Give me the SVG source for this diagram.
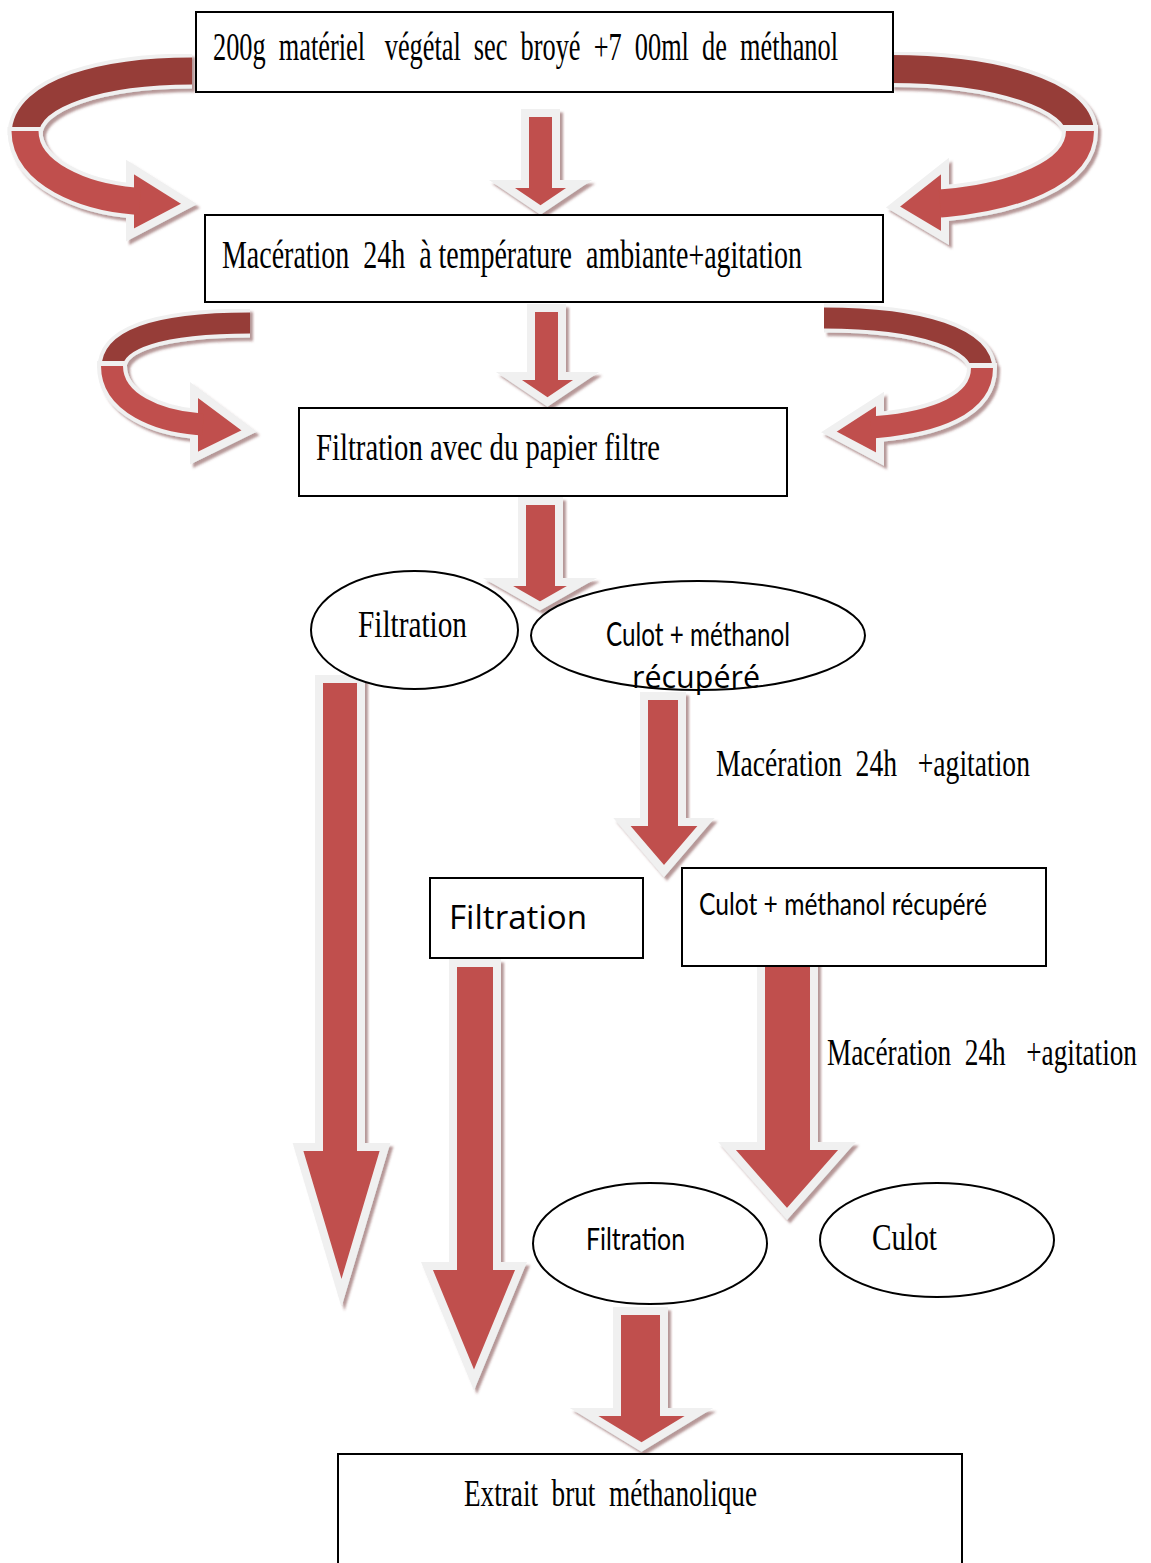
<svg xmlns="http://www.w3.org/2000/svg" width="1151" height="1563" viewBox="0 0 1151 1563">
<defs>
<filter id="sh" x="-20%" y="-10%" width="140%" height="125%">
<feDropShadow dx="3" dy="3.5" stdDeviation="1.2" flood-color="#6e3030" flood-opacity="0.5"/>
</filter>
<style>
.blk{fill:#c0504d;stroke:#f0f0f0;stroke-width:8;stroke-linejoin:miter;stroke-miterlimit:10}
.wb{fill:none;stroke:#f0f0f0}
.dk{fill:none;stroke:#963c39}
.lt{fill:none;stroke:#c0504d}
.box{fill:#fff;stroke:#000;stroke-width:2}
.ell{fill:#fff;stroke:#000;stroke-width:2}
.serif{font-family:"Liberation Serif","Times New Roman",serif;fill:#000}
.sans{font-family:"Lato","Liberation Sans",sans-serif;fill:#000}
.open{font-family:"Open Sans","Liberation Sans",sans-serif;fill:#000}
</style>
</defs>
<g id="connectors">
<g id="curve-tl" filter="url(#sh)">
<path class="wb" stroke-width="35" d="M 192 71 C 105 71 25 92 25 135"/>
<path class="dk" stroke-width="27" d="M 192 71 C 105 71 25 92 25 135"/>
<path class="wb" stroke-width="35" d="M 25 127 L 25 131 C 25 174 85 197 134 201"/>
<polygon class="blk" points="130,167 189,204 130,235"/>
<path class="lt" stroke-width="27" d="M 25 131 C 25 174 85 197 134 201 L 140 201.5"/>
</g>
<g id="curve-tr" filter="url(#sh)">
<path class="wb" stroke-width="36" d="M 891 69 C 995 69 1080 95 1080 133"/>
<path class="dk" stroke-width="28" d="M 891 69 C 995 69 1080 95 1080 133"/>
<path class="wb" stroke-width="36" d="M 1080 125 L 1080 131 C 1080 175 1010 197 946 203"/>
<polygon class="blk" points="945,166 893,207 945,238"/>
<path class="lt" stroke-width="28" d="M 1080 131 C 1080 175 1010 197 946 203 L 940 203.5"/>
</g>
<g id="curve-ml" filter="url(#sh)">
<path class="wb" stroke-width="29" d="M 250 323 C 162 323 112 338 112 368"/>
<path class="dk" stroke-width="21" d="M 250 323 C 162 323 112 338 112 368"/>
<path class="wb" stroke-width="30" d="M 112 361 L 112 366 C 112 404 160 421 197 424"/>
<polygon class="blk" points="194,390 249,431 194,458"/>
<path class="lt" stroke-width="22" d="M 112 366 C 112 404 160 421 197 424 L 203 424.5"/>
</g>
<g id="curve-mr" filter="url(#sh)">
<path class="wb" stroke-width="29" d="M 824 318 C 925 318 982 340 982 370"/>
<path class="dk" stroke-width="21" d="M 824 318 C 925 318 982 340 982 370"/>
<path class="wb" stroke-width="30" d="M 982 363 L 982 368 C 982 405 935 422 877 427"/>
<polygon class="blk" points="880,399 829,432 880,459"/>
<path class="lt" stroke-width="22" d="M 982 368 C 982 405 935 422 877 427 L 871 427.5"/>
</g>
<g filter="url(#sh)">
<polygon id="a1" class="blk" points="525,113 556,113 556,184 579,184 540.5,210 502,184 525,184"/>
<polygon id="a2" class="blk" points="531,308 562,308 562,376 586,376 547.5,402 509,376 531,376"/>
<polygon id="a3" class="blk" points="522,501 559,501 559,582 582,582 540,606 498,582 522,582"/>
<polygon id="a4" class="blk" points="319,679 361,679 361,1147 385,1147 341.5,1293 298,1147 319,1147"/>
<polygon id="a5" class="blk" points="644,696 682,696 682,822 706,822 664,871 622,822 644,822"/>
<polygon id="a6" class="blk" points="453,963 497,963 497,1266 521,1266 474,1380 427,1266 453,1266"/>
<polygon id="a7" class="blk" points="761,956 814,956 814,1146 847,1146 787,1214 727,1146 761,1146"/>
<polygon id="a8" class="blk" points="617,1311 664,1311 664,1412 699,1412 641.5,1447 584,1412 617,1412"/>
</g>
</g>
<g id="n1">
<rect class="box" x="196" y="12" width="697" height="80"/>
<text class="serif" x="213" y="60" font-size="40" textLength="625" lengthAdjust="spacingAndGlyphs" style="white-space:pre">200g  matériel   végétal  sec  broyé  +7  00ml  de  méthanol</text>
</g>
<g id="n2">
<rect class="box" x="205" y="215" width="678" height="87"/>
<text class="serif" x="222" y="268" font-size="40" textLength="580" lengthAdjust="spacingAndGlyphs" style="white-space:pre">Macération  24h  à température  ambiante+agitation</text>
</g>
<g id="n3">
<rect class="box" x="299" y="408" width="488" height="88"/>
<text class="serif" x="316" y="460" font-size="38" textLength="344" lengthAdjust="spacingAndGlyphs">Filtration avec du papier filtre</text>
</g>
<g id="n4">
<ellipse class="ell" cx="414.5" cy="630" rx="103.5" ry="59"/>
<text class="serif" x="358" y="637" font-size="38" textLength="109" lengthAdjust="spacingAndGlyphs">Filtration</text>
</g>
<g id="n5">
<ellipse class="ell" cx="698" cy="635.5" rx="167" ry="54.5"/>
<text class="sans" x="606" y="646" font-size="32" textLength="184" lengthAdjust="spacingAndGlyphs">Culot + méthanol</text>
<text class="open" x="632" y="688" font-size="31" textLength="128" lengthAdjust="spacingAndGlyphs">récupéré</text>
</g>
<g id="l1">
<text class="serif" x="716" y="776" font-size="38" textLength="314" lengthAdjust="spacingAndGlyphs" style="white-space:pre">Macération  24h   +agitation</text>
</g>
<g id="n6">
<rect class="box" x="430" y="878" width="213" height="80"/>
<text class="open" x="449" y="929" font-size="32" textLength="138" lengthAdjust="spacingAndGlyphs">Filtration</text>
</g>
<g id="n7">
<rect class="box" x="682" y="868" width="364" height="98"/>
<text class="sans" x="699" y="915" font-size="30" textLength="288" lengthAdjust="spacingAndGlyphs" style="white-space:pre">Culot + méthanol récupéré</text>
</g>
<g id="l2">
<text class="serif" x="827" y="1065" font-size="38" textLength="310" lengthAdjust="spacingAndGlyphs" style="white-space:pre">Macération  24h   +agitation</text>
</g>
<g id="n8">
<ellipse class="ell" cx="650" cy="1243.5" rx="117" ry="60.5"/>
<text class="sans" x="586" y="1250" font-size="30" textLength="99" lengthAdjust="spacingAndGlyphs">Filtration</text>
</g>
<g id="n9">
<ellipse class="ell" cx="937" cy="1240" rx="117" ry="57"/>
<text class="serif" x="872" y="1250" font-size="38" textLength="65" lengthAdjust="spacingAndGlyphs">Culot</text>
</g>
<g id="n10">
<rect class="box" x="338" y="1454" width="624" height="130"/>
<text class="serif" x="464" y="1506" font-size="38" textLength="293" lengthAdjust="spacingAndGlyphs" style="white-space:pre">Extrait  brut  méthanolique</text>
</g>
</svg>
